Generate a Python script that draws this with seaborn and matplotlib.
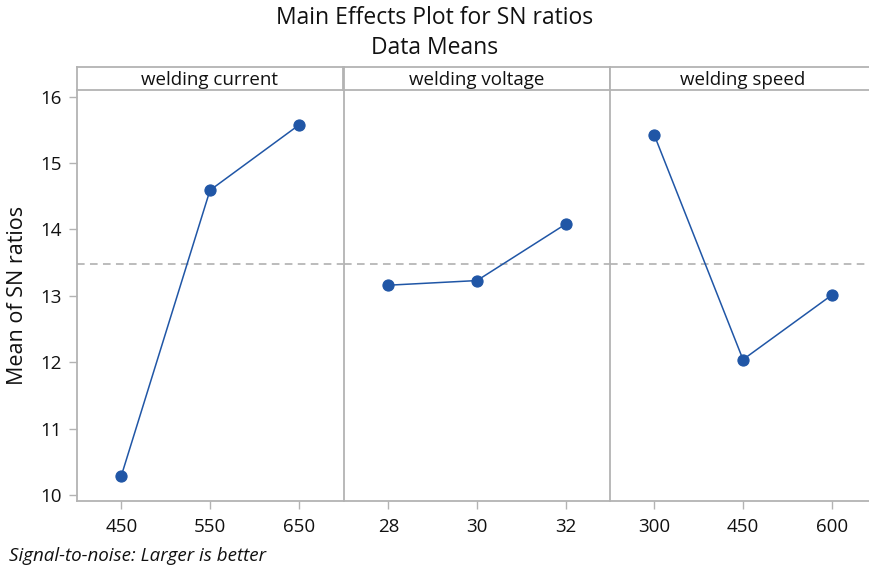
import matplotlib
matplotlib.use("Agg")
import matplotlib.pyplot as plt
import seaborn as sns
import pandas as pd

# ---- data ----
factors = ["welding current", "welding voltage", "welding speed"]
current_levels = ["450", "550", "650"]
current_sn = [10.29, 14.59, 15.57]
voltage_levels = ["28", "30", "32"]
voltage_sn = [13.16, 13.23, 14.08]
speed_levels = ["300", "450", "600"]
speed_sn = [15.42, 12.04, 13.01]
y_ticks = [10, 11, 12, 13, 14, 15, 16]

levels = [current_levels, voltage_levels, speed_levels]
values = [current_sn, voltage_sn, speed_sn]
overall_mean = sum(current_sn) / len(current_sn)

sns.set_theme(style="white")
plt.rcParams['font.family'] = ['Open Sans', 'DejaVu Sans']

W, H = 870, 571
fig = plt.figure(figsize=(W / 100, H / 100), dpi=100)

BLUE = "#2056a6"
GRAY = "#b3b3b3"
DASH = "#aaaaaa"
TXT = "#111111"

lefts = [77, 344, 610]
width = 266
ax_bottom, ax_top = 501, 90
strip_top = 67

axes = []
for i, (fac, lv, vals) in enumerate(zip(factors, levels, values)):
    l = lefts[i]
    ax = fig.add_axes([l / W, 1 - ax_bottom / H, width / W, (ax_bottom - ax_top) / H],
                      sharey=axes[0] if axes else None)
    axes.append(ax)
    df = pd.DataFrame({"level": lv, "sn": vals})
    sns.pointplot(data=df, x="level", y="sn", order=lv, color=BLUE, ax=ax,
                  errorbar=None, markers="o", markersize=8, linewidth=1.1)
    ax.axhline(overall_mean, color=DASH, lw=1.1, ls=(0, (5, 3.5)), zorder=0)
    ax.set_xlim(-0.5, 2.5)
    ax.set_ylim(9.91, 16.1)
    ax.set_xlabel("")
    ax.set_ylabel("")
    for s in ["top", "right"]:
        ax.spines[s].set_visible(False)
    for s in ["left", "bottom"]:
        ax.spines[s].set_color(GRAY)
        ax.spines[s].set_linewidth(1.3)
    ax.tick_params(axis="x", which="both", bottom=True, length=6, width=1, color=GRAY,
                   labelsize=13.5, pad=6, labelcolor=TXT)
    if i == 0:
        ax.set_yticks(y_ticks)
        ax.tick_params(axis="y", left=True, length=6, width=1, color=GRAY,
                       labelsize=13.5, pad=5, labelcolor=TXT)
    else:
        ax.tick_params(axis="y", left=False, labelleft=False)

    # strip header
    sax = fig.add_axes([l / W, 1 - ax_top / H, width / W, (ax_top - strip_top) / H])
    sax.set_xticks([])
    sax.set_yticks([])
    sax.set_facecolor("white")
    for s in ["top", "bottom", "left", "right"]:
        sax.spines[s].set_color(GRAY)
        sax.spines[s].set_linewidth(1.3)
    if i == 2:
        sax.spines["right"].set_visible(False)
    sax.text(0.5, 0.45, fac, ha="center", va="center", fontsize=13.5,
             color=TXT, transform=sax.transAxes)

axes[0].set_ylabel("Mean of SN ratios", fontsize=15.5, color=TXT, labelpad=9)

fig.text(0.5, 1 - 18 / H, "Main Effects Plot for SN ratios", ha="center", va="center",
         fontsize=16.5, color=TXT)
fig.text(0.5, 1 - 48 / H, "Data Means", ha="center", va="center",
         fontsize=16.5, color=TXT)
fig.text(9 / W, 1 - 556 / H, "Signal-to-noise: Larger is better", ha="left", va="center",
         fontsize=13.5, style="italic", color=TXT)

fig.savefig("out.png", dpi=100)
